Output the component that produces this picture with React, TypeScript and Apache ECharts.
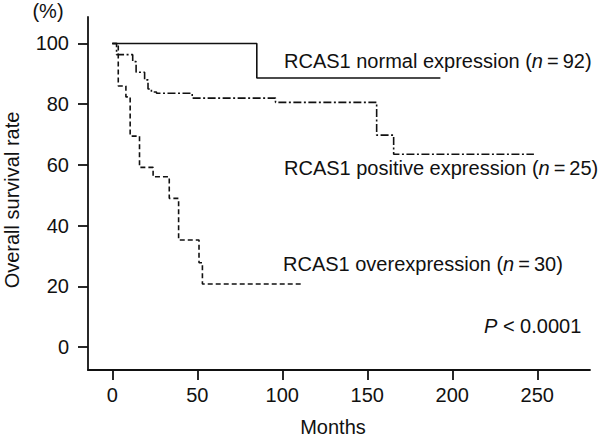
import React, { useEffect, useRef } from "react";
import * as echarts from "echarts";

const xTicks = [0, 50, 100, 150, 200, 250];
const yTicks = [0, 20, 40, 60, 80, 100];

const normalMonths = [0, 85, 193];
const normalSurvival = [100, 88.6, 88.6];

const positiveMonths = [0, 2.5, 12, 14, 19, 21, 23, 26, 47, 96, 155.5, 165.5, 248];
const positiveSurvival = [100, 96.3, 94, 90.5, 88, 85, 84, 83.6, 82, 80.6, 69.8, 63.5, 63.5];

const overMonths = [0, 3.5, 8, 10.5, 16, 24, 33.5, 39, 51, 53, 112];
const overSurvival = [100, 86, 82.4, 69.5, 59.2, 56.1, 49, 35.3, 27.8, 20.8, 20.8];

const FONT = '"Liberation Sans", Arial, Helvetica, sans-serif';
const INK = "#111";
const FS = 20;

const pairs = (xs: number[], ys: number[]) => xs.map((x, i) => [x, ys[i]]);

export default function App() {
  const ref = useRef<HTMLDivElement>(null);
  useEffect(() => {
    if (!ref.current) return;
    const chart = echarts.init(ref.current, undefined, { renderer: "svg" });
    const rich = {
      a: { fontSize: FS, fontFamily: FONT, fill: INK },
      i: { fontSize: FS, fontFamily: FONT, fontStyle: "italic", fill: INK },
    };
    const label = (x: number, y: number, text: string) => ({
      type: "text",
      x,
      y,
      style: { text, rich, fill: INK, verticalAlign: "middle", font: `${FS}px ${FONT}` },
    });
    chart.setOption({
      animation: false,
      backgroundColor: "#fff",
      grid: { left: 88, right: 10, top: 17, bottom: 70, containLabel: false },
      xAxis: {
        type: "value",
        min: -14.3,
        max: 281,
        axisLine: { show: true, onZero: false, lineStyle: { color: INK, width: 1.8 } },
        axisTick: { show: true, length: 10, customValues: xTicks, lineStyle: { color: INK, width: 1.8 } },
        axisLabel: { customValues: xTicks, color: INK, fontSize: FS, fontFamily: FONT, margin: 15 },
        splitLine: { show: false },
      },
      yAxis: {
        type: "value",
        min: -7.5,
        max: 108.7,
        axisLine: { show: true, onZero: false, lineStyle: { color: INK, width: 1.8 } },
        axisTick: { show: true, length: 10, customValues: yTicks, lineStyle: { color: INK, width: 1.8 } },
        axisLabel: { customValues: yTicks, color: INK, fontSize: FS, fontFamily: FONT, margin: 19 },
        splitLine: { show: false },
      },
      series: [
        {
          type: "line",
          step: "end",
          data: pairs(normalMonths, normalSurvival),
          symbol: "none",
          lineStyle: { color: INK, width: 1.6 },
        },
        {
          type: "line",
          step: "end",
          data: pairs(positiveMonths, positiveSurvival),
          symbol: "none",
          lineStyle: { color: INK, width: 1.6, type: [8, 2.5, 2, 2.5] },
        },
        {
          type: "line",
          step: "end",
          data: pairs(overMonths, overSurvival),
          symbol: "none",
          lineStyle: { color: INK, width: 1.6, type: [5, 3] },
        },
      ],
      graphic: [
        label(284, 61, "{a|RCAS1 normal expression (}{i|n}{a|\u2009=\u200992)}"),
        label(284, 168, "{a|RCAS1 positive expression (}{i|n}{a|\u2009=\u200925)}"),
        label(283, 264, "{a|RCAS1 overexpression (}{i|n}{a|\u2009=\u200930)}"),
        label(484, 326, "{i|P}{a| < 0.0001}"),
        {
          type: "text",
          x: 48,
          y: 11,
          style: { text: "(%)", fill: INK, font: `${FS}px ${FONT}`, align: "center", verticalAlign: "middle" },
        },
        {
          type: "text",
          x: 12,
          y: 200,
          rotation: Math.PI / 2,
          style: { text: "Overall survival rate", fill: INK, font: `${FS}px ${FONT}`, align: "center", verticalAlign: "middle" },
        },
        {
          type: "text",
          x: 333,
          y: 427,
          style: { text: "Months", fill: INK, font: `${FS}px ${FONT}`, align: "center", verticalAlign: "middle" },
        },
      ],
    });
    return () => chart.dispose();
  }, []);
  return <div ref={ref} style={{ width: 600, height: 440, position: "absolute", left: 0, top: 0 }} />;
}
